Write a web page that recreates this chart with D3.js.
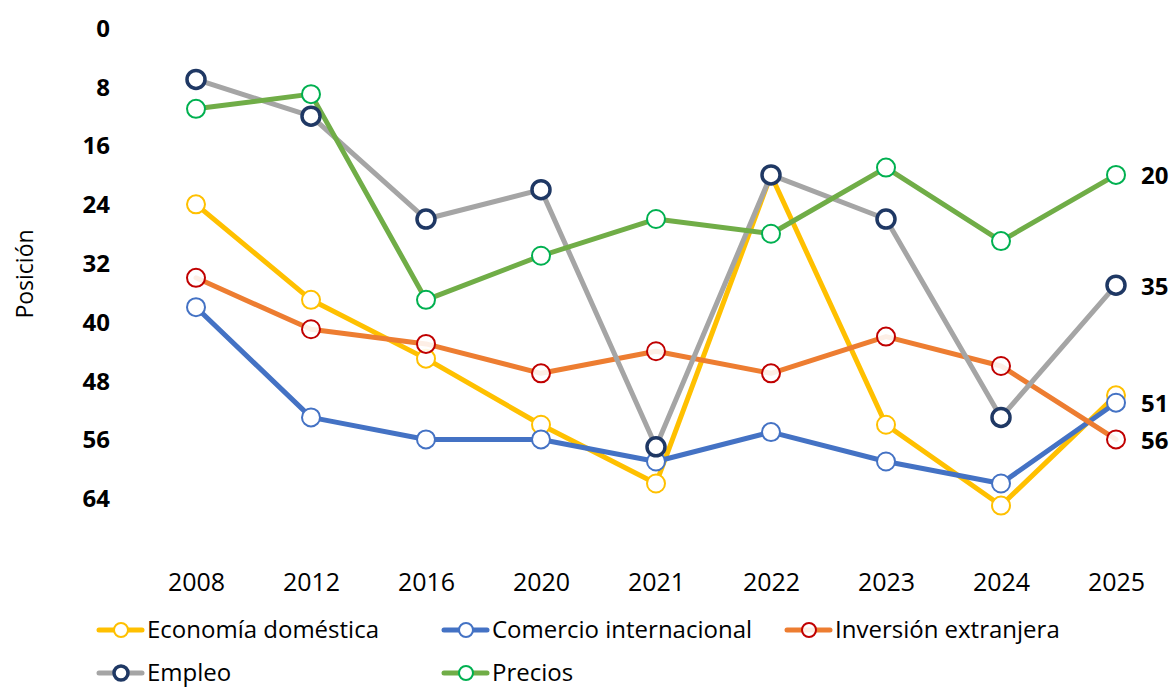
<!DOCTYPE html>
<html>
<head>
<meta charset="utf-8">
<script src="https://cdn.jsdelivr.net/npm/d3@7"></script>
<style>
  body { margin: 0; background: #fff; }
  svg { display: block; font-family: "Open Sans", "Noto Sans", sans-serif; }
</style>
</head>
<body>
<svg id="chart" width="1174" height="689"></svg>
<script>
// data, ranking positions (lower = better, axis reversed)
const years = ['2008','2012','2016','2020','2021','2022','2023','2024','2025'];
const yTicks = [0, 8, 16, 24, 32, 40, 48, 56, 64];
const seriesNames = ['Economía doméstica', 'Comercio internacional', 'Inversión extranjera', 'Empleo', 'Precios'];
const economia   = [24, 37, 45, 54, 62, 20, 54, 65, 50];
const comercio   = [38, 53, 56, 56, 59, 55, 59, 62, 51];
const inversion  = [34, 41, 43, 47, 44, 47, 42, 46, 56];
const empleo     = [7, 12, 26, 22, 57, 20, 26, 53, 35];
const precios    = [11, 9, 37, 31, 26, 28, 19, 29, 20];
// which series get a value label on the last point
const labelled = ['Comercio internacional', 'Inversión extranjera', 'Empleo', 'Precios'];

const styles = [
  {line: '#FFC000', mk: '#FFC000', mw: 2,   fo: 1},
  {line: '#4472C4', mk: '#4472C4', mw: 2,   fo: 1},
  {line: '#ED7D31', mk: '#C00000', mw: 2,   fo: 0.88},
  {line: '#A5A5A5', mk: '#1F3864', mw: 3.5, fo: 1},
  {line: '#70AD47', mk: '#00B050', mw: 2,   fo: 1}
];
const allValues = [economia, comercio, inversion, empleo, precios];
const series = seriesNames.map((n, i) => ({name: n, values: allValues[i], st: styles[i]}));

const svg = d3.select('#chart');
const x = d3.scalePoint().domain(years).range([196, 1116]);
const y = d3.scaleLinear().domain([0, 72]).range([28, 557]);

// y axis labels (bold, no axis line)
const yAxis = svg.append('g')
  .attr('transform', 'translate(110,0)')
  .call(d3.axisLeft(y).tickValues(yTicks).tickSize(0).tickPadding(0));
yAxis.select('.domain').remove();
yAxis.selectAll('text')
  .attr('font-family', '"Open Sans", sans-serif')
  .attr('font-size', 24).attr('font-weight', 700).attr('fill', '#000')
  .attr('dy', '0.35em');

// x axis labels
const xAxis = svg.append('g')
  .attr('transform', 'translate(0,570)')
  .call(d3.axisBottom(x).tickSize(0).tickPadding(0));
xAxis.select('.domain').remove();
xAxis.selectAll('text')
  .attr('font-family', '"Open Sans", sans-serif')
  .attr('font-size', 25).attr('fill', '#000')
  .attr('dy', '0.35em').attr('y', 12);

svg.append('text')
  .attr('transform', 'translate(24,274) rotate(-90)')
  .attr('text-anchor', 'middle').attr('dominant-baseline', 'central')
  .attr('font-size', 23).attr('fill', '#000')
  .text('Posición');

const line = d3.line().x((d, i) => x(years[i])).y(d => y(d));

svg.append('g').selectAll('path')
  .data(series).join('path')
  .attr('d', d => line(d.values))
  .attr('fill', 'none')
  .attr('stroke', d => d.st.line)
  .attr('stroke-width', 5)
  .attr('stroke-linejoin', 'round')
  .attr('stroke-linecap', 'round');

series.forEach(s => {
  svg.append('g').selectAll('circle')
    .data(s.values).join('circle')
    .attr('cx', (d, i) => x(years[i]))
    .attr('cy', d => y(d))
    .attr('r', 9)
    .attr('fill', '#fff').attr('fill-opacity', s.st.fo)
    .attr('stroke', s.st.mk)
    .attr('stroke-width', s.st.mw);
});

// end labels
const last = years.length - 1;
svg.append('g').selectAll('text')
  .data(series.filter(s => labelled.includes(s.name))).join('text')
  .attr('x', x(years[last]) + 25)
  .attr('y', d => y(d.values[last]))
  .attr('dominant-baseline', 'central')
  .attr('font-size', 24).attr('font-weight', 700).attr('fill', '#000')
  .text(d => d.values[last]);

// legend
const legCols = [97, 442, 785];
const legRows = [630, 673];
const leg = svg.append('g').selectAll('g')
  .data(series).join('g')
  .attr('transform', (d, i) => `translate(${legCols[i % 3]},${legRows[Math.floor(i / 3)]})`);
leg.append('line')
  .attr('x1', 2).attr('x2', 45)
  .attr('stroke', d => d.st.line).attr('stroke-width', 5)
  .attr('stroke-linecap', 'round');
leg.append('circle')
  .attr('cx', 24).attr('r', 7)
  .attr('fill', '#fff').attr('fill-opacity', d => d.st.fo)
  .attr('stroke', d => d.st.mk)
  .attr('stroke-width', d => d.st.mw);
leg.append('text')
  .attr('x', 50).attr('y', 8)
  .attr('font-size', 24).attr('fill', '#000')
  .text(d => d.name);
</script>
</body>
</html>
